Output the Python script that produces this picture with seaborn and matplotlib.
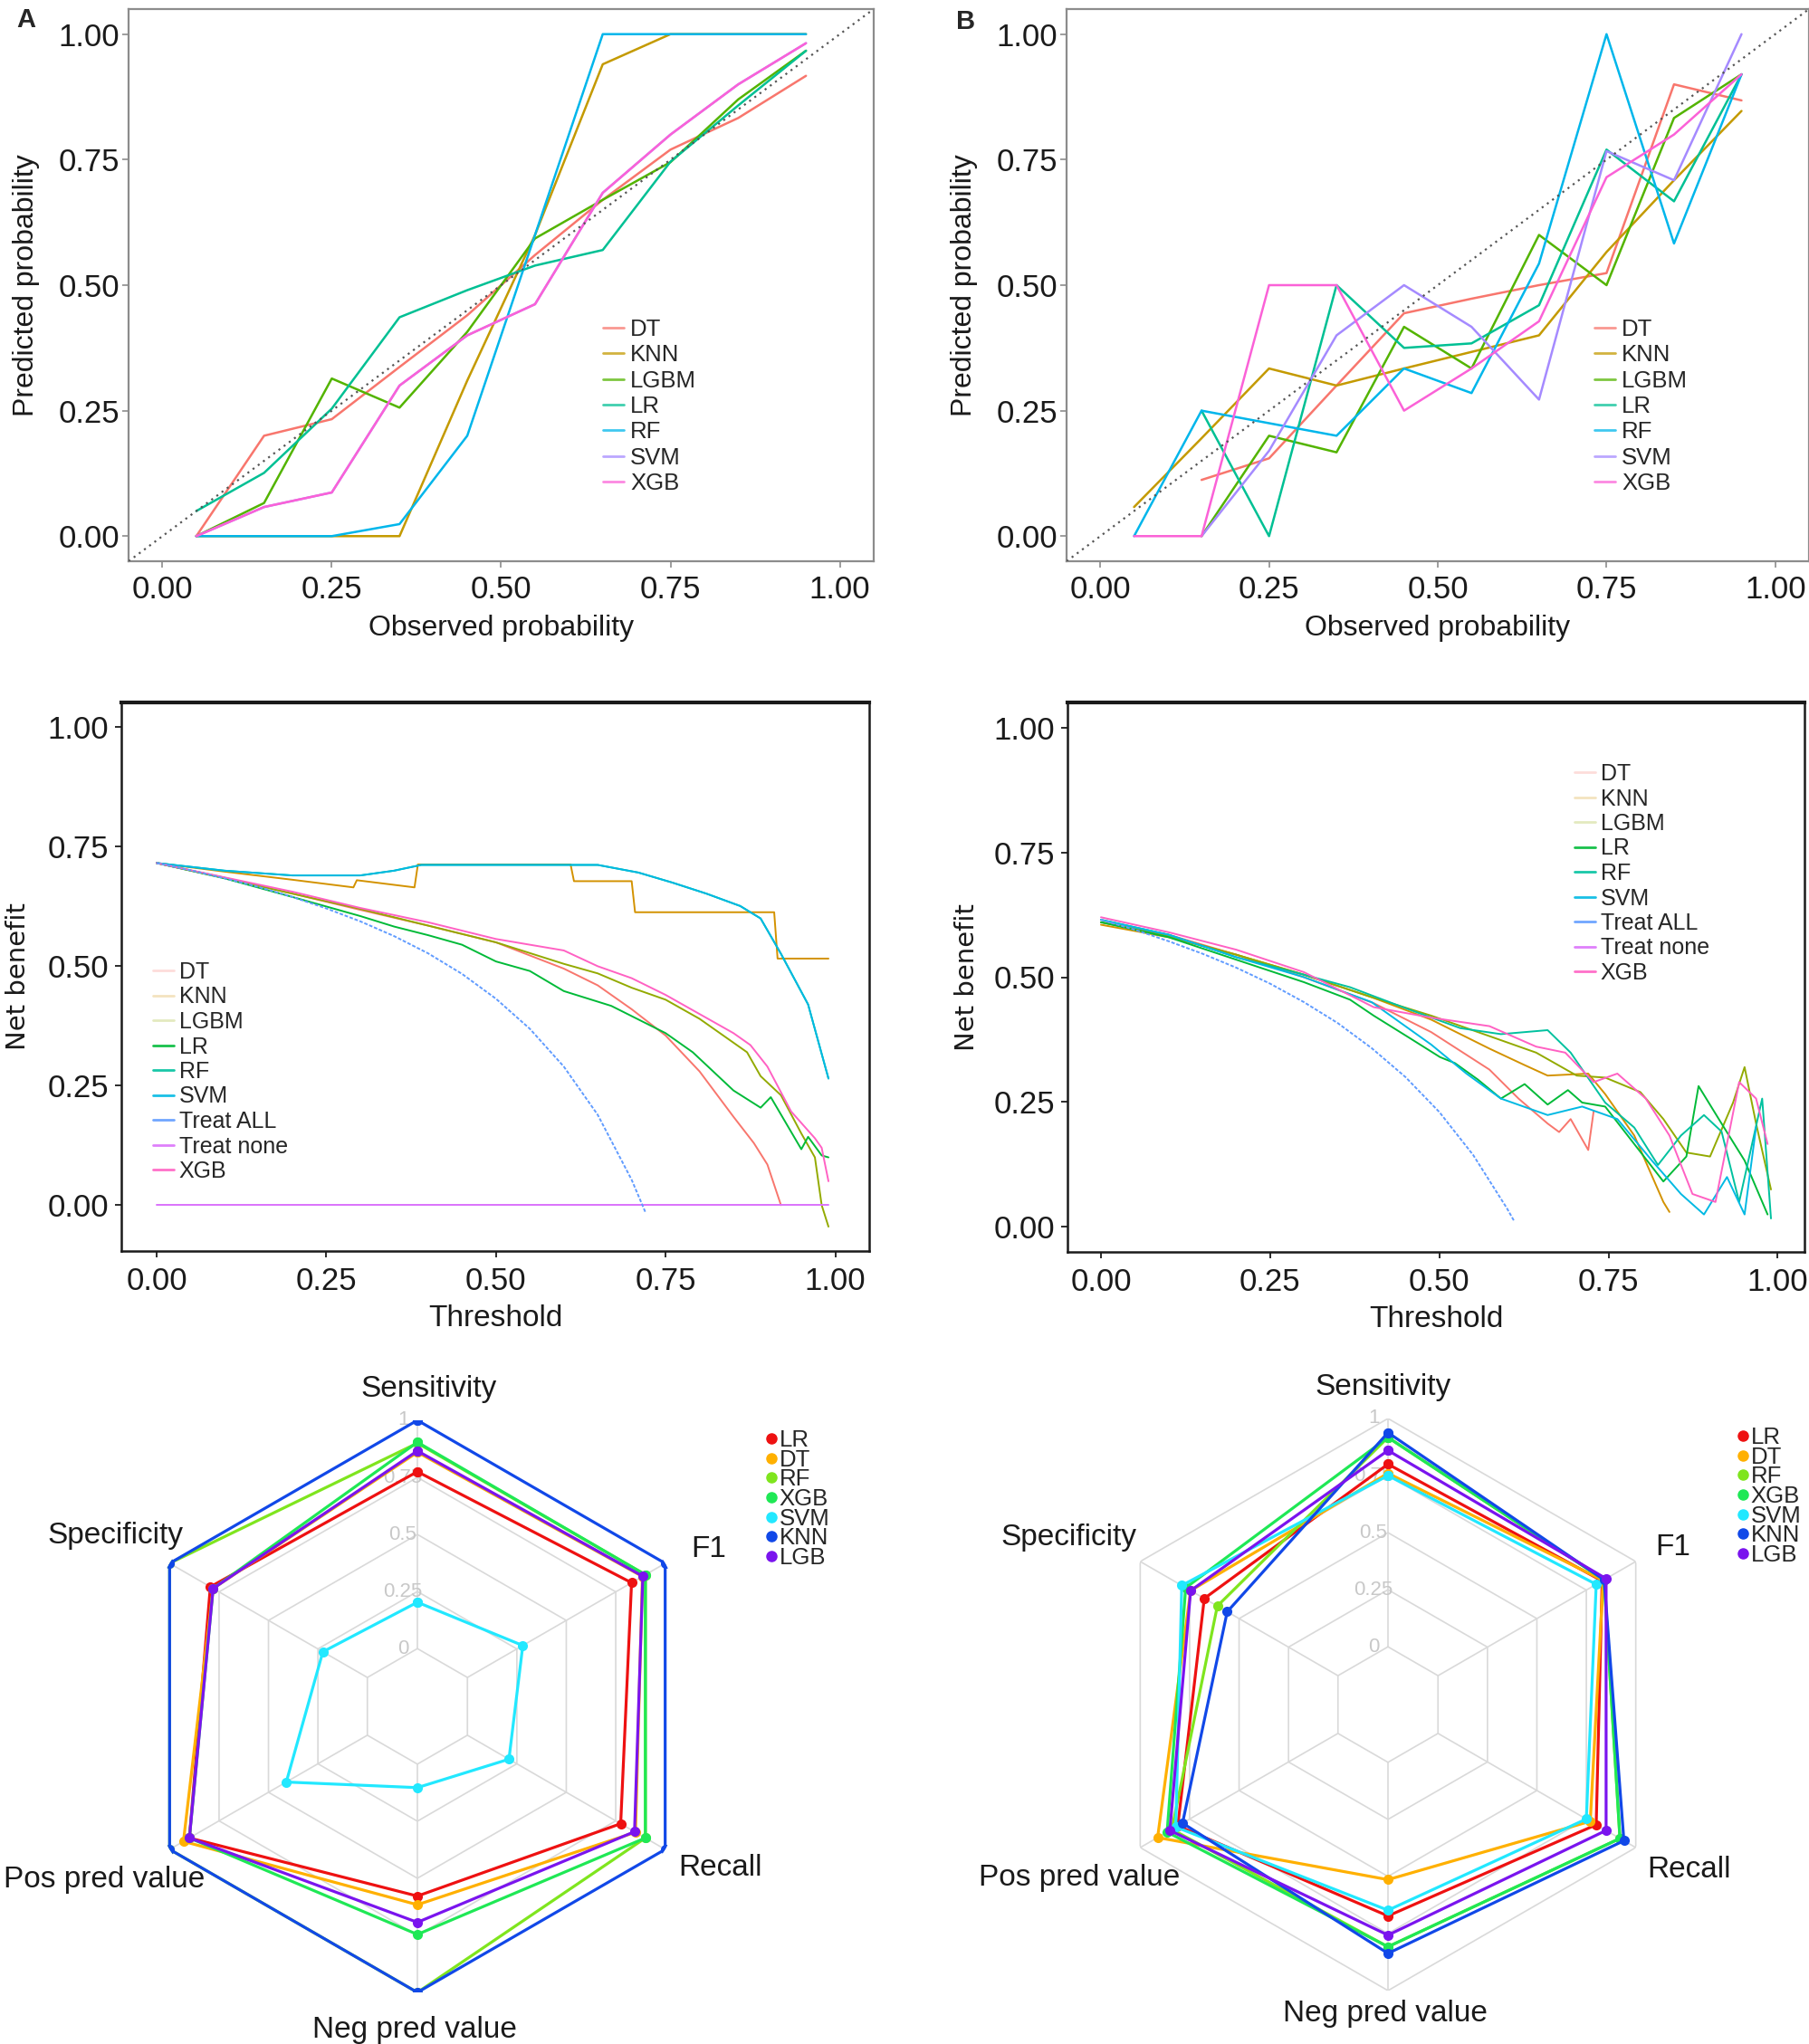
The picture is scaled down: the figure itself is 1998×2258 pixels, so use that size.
import numpy as np
import pandas as pd
import matplotlib
matplotlib.use("Agg")
import matplotlib.pyplot as plt
import seaborn as sns
from matplotlib.lines import Line2D

sns.set_theme(style="white")
plt.rcParams['font.family'] = ['Liberation Sans', 'DejaVu Sans']

# ---------------- data ----------------
# calibration curves (observed bin centres -> predicted probability)
obs_bins = [0.05, 0.15, 0.25, 0.35, 0.45, 0.55, 0.65, 0.75, 0.85, 0.95]
cal_models = ['DT', 'KNN', 'LGBM', 'LR', 'RF', 'SVM', 'XGB']

a_dt = [0.00, 0.20, 0.233, 0.337, 0.44, 0.56, 0.67, 0.77, 0.833, 0.917]
a_knn = [0.00, 0.00, 0.00, 0.00, 0.31, 0.60, 0.94, 1.00, 1.00, 1.00]
a_lgbm = [0.00, 0.066, 0.314, 0.256, 0.407, 0.593, 0.67, 0.745, 0.87, 0.967]
a_lr = [0.05, 0.126, 0.254, 0.436, 0.49, 0.539, 0.57, 0.746, 0.858, 0.967]
a_rf = [0.00, 0.00, 0.00, 0.024, 0.20, 0.60, 1.00, 1.00, 1.00, 1.00]
a_svm = [0.00, 0.058, 0.087, 0.30, 0.40, 0.462, 0.684, 0.80, 0.90, 0.982]
a_xgb = [0.00, 0.058, 0.087, 0.30, 0.40, 0.462, 0.684, 0.80, 0.90, 0.982]

b_dt = [np.nan, 0.112, 0.155, 0.30, 0.444, 0.473, 0.50, 0.524, 0.90, 0.868]
b_knn = [0.058, 0.195, 0.334, 0.30, 0.334, 0.367, 0.40, 0.566, 0.709, 0.847]
b_lgbm = [np.nan, 0.00, 0.20, 0.167, 0.417, 0.334, 0.60, 0.50, 0.833, 0.92]
b_lr = [np.nan, 0.25, 0.00, 0.50, 0.375, 0.384, 0.46, 0.77, 0.667, 0.92]
b_rf = [0.00, 0.25, 0.225, 0.20, 0.334, 0.285, 0.543, 1.00, 0.583, 0.92]
b_svm = [np.nan, 0.00, 0.17, 0.40, 0.50, 0.417, 0.272, 0.767, 0.709, 1.00]
b_xgb = [0.00, 0.00, 0.50, 0.50, 0.25, 0.334, 0.428, 0.715, 0.80, 0.92]

# decision curves, left panel
c_dt_t = [0, 0.1, 0.2, 0.3, 0.4, 0.5, 0.6, 0.65, 0.7, 0.75, 0.8, 0.85, 0.88, 0.9, 0.92]
c_dt_nb = [0.716, 0.685, 0.652, 0.618, 0.585, 0.55, 0.495, 0.46, 0.41, 0.355, 0.28, 0.185, 0.13, 0.085, 0.0]
c_knn_t = [0, 0.1, 0.2, 0.29, 0.295, 0.38, 0.385, 0.61, 0.615, 0.70, 0.705, 0.91, 0.915, 0.99]
c_knn_nb = [0.716, 0.698, 0.681, 0.665, 0.680, 0.665, 0.713, 0.713, 0.678, 0.678, 0.613, 0.613, 0.516, 0.516]
c_lgbm_t = [0, 0.1, 0.2, 0.3, 0.4, 0.5, 0.6, 0.65, 0.7, 0.75, 0.8, 0.85, 0.87, 0.89, 0.92, 0.95, 0.97, 0.98, 0.99]
c_lgbm_nb = [0.716, 0.685, 0.652, 0.62, 0.585, 0.55, 0.505, 0.485, 0.455, 0.43, 0.39, 0.34, 0.32, 0.27, 0.23, 0.15, 0.10, 0.0, -0.045]
c_lr_t = [0, 0.1, 0.2, 0.3, 0.35, 0.4, 0.45, 0.5, 0.55, 0.6, 0.67, 0.75, 0.79, 0.85, 0.89, 0.905, 0.95, 0.96, 0.98, 0.99]
c_lr_nb = [0.716, 0.684, 0.645, 0.605, 0.583, 0.565, 0.545, 0.51, 0.49, 0.448, 0.417, 0.36, 0.32, 0.24, 0.204, 0.226, 0.117, 0.143, 0.104, 0.10]
c_rf_t = [0, 0.1, 0.2, 0.3, 0.35, 0.39, 0.65, 0.71, 0.76, 0.81, 0.86, 0.89, 0.92, 0.96, 0.99]
c_rf_nb = [0.716, 0.70, 0.69, 0.69, 0.70, 0.712, 0.712, 0.696, 0.675, 0.652, 0.626, 0.60, 0.526, 0.42, 0.265]
c_svm_t = [0, 0.1, 0.2, 0.3, 0.35, 0.39, 0.65, 0.71, 0.76, 0.81, 0.86, 0.89, 0.92, 0.96, 0.99]
c_svm_nb = [0.716, 0.70, 0.69, 0.69, 0.70, 0.712, 0.712, 0.696, 0.675, 0.652, 0.626, 0.60, 0.526, 0.42, 0.265]
c_all_t = [0, 0.05, 0.1, 0.15, 0.2, 0.25, 0.3, 0.35, 0.4, 0.45, 0.5, 0.55, 0.6, 0.65, 0.7, 0.72]
c_all_nb = [0.716, 0.701, 0.684, 0.666, 0.645, 0.621, 0.594, 0.563, 0.527, 0.484, 0.432, 0.369, 0.290, 0.189, 0.053, -0.014]
c_none_t = [0, 0.99]
c_none_nb = [0.0, 0.0]
c_xgb_t = [0, 0.1, 0.2, 0.3, 0.4, 0.5, 0.6, 0.65, 0.7, 0.75, 0.8, 0.85, 0.875, 0.9, 0.935, 0.97, 0.98, 0.99]
c_xgb_nb = [0.716, 0.686, 0.656, 0.622, 0.592, 0.557, 0.533, 0.50, 0.475, 0.44, 0.40, 0.36, 0.335, 0.29, 0.196, 0.14, 0.12, 0.05]

# decision curves, right panel
d_dt_t = [0, 0.1, 0.2, 0.3, 0.403, 0.488, 0.574, 0.617, 0.66, 0.677, 0.694, 0.72, 0.728]
d_dt_nb = [0.61, 0.585, 0.545, 0.50, 0.448, 0.39, 0.315, 0.257, 0.207, 0.19, 0.216, 0.154, 0.232]
d_knn_t = [0, 0.1, 0.2, 0.3, 0.4, 0.488, 0.574, 0.626, 0.66, 0.72, 0.745, 0.788, 0.831, 0.84]
d_knn_nb = [0.605, 0.58, 0.545, 0.505, 0.46, 0.415, 0.357, 0.324, 0.303, 0.307, 0.266, 0.183, 0.05, 0.03]
d_lgbm_t = [0, 0.1, 0.2, 0.3, 0.4, 0.488, 0.574, 0.643, 0.703, 0.745, 0.797, 0.831, 0.865, 0.90, 0.934, 0.951, 0.968, 0.99]
d_lgbm_nb = [0.61, 0.582, 0.545, 0.505, 0.46, 0.423, 0.382, 0.349, 0.303, 0.299, 0.27, 0.216, 0.149, 0.141, 0.249, 0.32, 0.207, 0.075]
d_lr_t = [0, 0.1, 0.2, 0.3, 0.368, 0.403, 0.454, 0.501, 0.523, 0.557, 0.591, 0.626, 0.66, 0.69, 0.711, 0.745, 0.788, 0.831, 0.865, 0.883, 0.917, 0.951, 0.985]
d_lr_nb = [0.61, 0.58, 0.535, 0.49, 0.455, 0.423, 0.38, 0.34, 0.328, 0.295, 0.257, 0.286, 0.245, 0.274, 0.249, 0.241, 0.166, 0.091, 0.141, 0.282, 0.207, 0.133, 0.025]
d_rf_t = [0, 0.1, 0.2, 0.3, 0.368, 0.446, 0.531, 0.591, 0.66, 0.694, 0.745, 0.788, 0.823, 0.857, 0.891, 0.917, 0.943, 0.977, 0.99]
d_rf_nb = [0.615, 0.585, 0.54, 0.505, 0.48, 0.44, 0.398, 0.386, 0.394, 0.349, 0.249, 0.199, 0.124, 0.183, 0.224, 0.191, 0.05, 0.257, 0.017]
d_svm_t = [0, 0.1, 0.2, 0.3, 0.4, 0.488, 0.54, 0.591, 0.66, 0.711, 0.763, 0.814, 0.857, 0.891, 0.925, 0.951, 0.968]
d_svm_nb = [0.615, 0.585, 0.54, 0.50, 0.45, 0.365, 0.307, 0.257, 0.224, 0.241, 0.216, 0.133, 0.066, 0.025, 0.10, 0.025, 0.20]
d_all_t = [0, 0.05, 0.1, 0.15, 0.2, 0.25, 0.3, 0.35, 0.4, 0.45, 0.5, 0.55, 0.6, 0.61]
d_all_nb = [0.615, 0.595, 0.572, 0.547, 0.519, 0.487, 0.450, 0.408, 0.358, 0.300, 0.230, 0.144, 0.037, 0.013]
d_xgb_t = [0, 0.1, 0.2, 0.3, 0.403, 0.488, 0.574, 0.643, 0.686, 0.728, 0.763, 0.805, 0.84, 0.874, 0.908, 0.943, 0.968, 0.985]
d_xgb_nb = [0.62, 0.59, 0.555, 0.51, 0.44, 0.419, 0.402, 0.361, 0.349, 0.29, 0.307, 0.257, 0.183, 0.066, 0.05, 0.29, 0.257, 0.166]

# radar metrics (order: Sensitivity, F1, Recall, Neg pred value, Pos pred value, Specificity)
radar_axes = ['Sensitivity', 'F1', 'Recall', 'Neg pred value', 'Pos pred value', 'Specificity']
radar_models = ['LR', 'DT', 'RF', 'XGB', 'SVM', 'KNN', 'LGB']
e_lr = [0.775, 0.83, 0.775, 0.578, 0.90, 0.794]
e_dt = [0.86, 0.885, 0.85, 0.616, 0.93, 0.78]
e_rf = [0.90, 0.90, 0.90, 1.00, 1.00, 1.00]
e_xgb = [0.904, 0.90, 0.90, 0.746, 0.90, 0.78]
e_svm = [0.203, 0.28, 0.21, 0.103, 0.41, 0.225]
e_knn = [1.00, 1.00, 1.00, 1.00, 1.00, 1.00]
e_lgb = [0.866, 0.887, 0.845, 0.693, 0.90, 0.78]

f_lr = [0.80, 0.83, 0.80, 0.673, 0.81, 0.676]
f_dt = [0.76, 0.835, 0.77, 0.514, 0.912, 0.745]
f_rf = [0.917, 0.84, 0.92, 0.808, 0.84, 0.61]
f_xgb = [0.917, 0.84, 0.92, 0.808, 0.864, 0.77]
f_svm = [0.75, 0.80, 0.75, 0.648, 0.82, 0.79]
f_knn = [0.938, 0.84, 0.94, 0.837, 0.786, 0.56]
f_lgb = [0.86, 0.85, 0.85, 0.757, 0.85, 0.745]

# ---------------- layout helpers ----------------
W, H = 1999, 2258
fig = plt.figure(figsize=(W / 100, H / 100), dpi=100)


def box(l, t, r, b):
    return [l / W, 1 - b / H, (r - l) / W, (b - t) / H]


def fxy(x, y):
    return (x / W, 1 - y / H)


cal_colors = ['#F8766D', '#C49A00', '#53B400', '#00C094', '#00B6EB', '#A58AFF', '#FB61D7']
dca_models = ['DT', 'KNN', 'LGBM', 'LR', 'RF', 'SVM', 'Treat ALL', 'Treat none', 'XGB']
dca_colors = ['#F8766D', '#D39200', '#93AA00', '#00BA38', '#00C19F', '#00B9E3', '#619CFF', '#DB72FB', '#FF61C3']
radar_colors = ['#EE1111', '#FFB000', '#7FE51E', '#1FE855', '#22E8FF', '#1148E8', '#7A14EE']

tick_fmt = ['0.00', '0.25', '0.50', '0.75', '1.00']
ticks = [0, 0.25, 0.5, 0.75, 1.0]


def draw_cal(rect, series, letter, letter_xy, legend_xy):
    ax = fig.add_axes(box(*rect))
    rows = []
    for name, vals in zip(cal_models, series):
        for x, y in zip(obs_bins, vals):
            rows.append((name, x, y))
    df = pd.DataFrame(rows, columns=['model', 'obs', 'pred']).dropna()
    ax.axline((0, 0), slope=1, color='#555555', ls=(0, (1, 2.2)), lw=1.6, zorder=3)
    sns.lineplot(data=df, x='obs', y='pred', hue='model', hue_order=cal_models,
                 palette=cal_colors, estimator=None, sort=False, lw=1.8,
                 legend=False, ax=ax)
    ax.set_xlim(-0.05, 1.05)
    ax.set_ylim(-0.05, 1.05)
    ax.set_xticks(ticks, tick_fmt)
    ax.set_yticks(ticks, tick_fmt)
    for s in ax.spines.values():
        s.set_color('#8c8c8c')
        s.set_linewidth(1.6)
    ax.tick_params(bottom=True, left=True, length=5, width=1.2, color='#8c8c8c',
                   labelsize=25, labelcolor='#1a1a1a')
    ax.tick_params(axis='x', pad=6)
    ax.tick_params(axis='y', pad=2)
    ax.set_xlabel('Observed probability', fontsize=23, labelpad=8, color='#1a1a1a')
    ax.set_ylabel('Predicted probability', fontsize=23, labelpad=15, color='#1a1a1a')
    handles = [Line2D([], [], color=c, lw=2, alpha=0.75) for c in cal_colors]
    fig.legend(handles, cal_models, loc='upper left', bbox_to_anchor=fxy(*legend_xy),
               frameon=False, fontsize=18.5, handlelength=0.9, handletextpad=0.27,
               labelspacing=0.17, borderpad=0, borderaxespad=0)
    fig.text(*fxy(*letter_xy), letter, fontsize=21, fontweight='bold', ha='center', va='center')
    return ax


def draw_dca(rect, curves, xlim, ylim, legend_xy, ylabelpad):
    ax = fig.add_axes(box(*rect))
    rows = []
    for name, t, nb in curves:
        for x, y in zip(t, nb):
            rows.append((name, x, y))
    df = pd.DataFrame(rows, columns=['model', 'threshold', 'nb'])
    pal = dict(zip(dca_models, dca_colors))
    models = df[df.model != 'Treat ALL']
    sns.lineplot(data=models, x='threshold', y='nb', hue='model', palette=pal,
                 estimator=None, sort=False, lw=1.4, legend=False, ax=ax)
    sns.lineplot(data=df[df.model == 'Treat ALL'], x='threshold', y='nb',
                 color=pal['Treat ALL'], estimator=None, sort=False, lw=1.4,
                 ls=(0, (2, 1)), legend=False, ax=ax)
    ax.set_xlim(*xlim)
    ax.set_ylim(*ylim)
    ax.set_xticks(ticks, tick_fmt)
    ax.set_yticks(ticks, tick_fmt)
    for s in ax.spines.values():
        s.set_color('#1a1a1a')
        s.set_linewidth(1.8)
    ax.spines['top'].set_linewidth(3)
    ax.tick_params(bottom=True, left=True, length=5, width=1.3, color='#1a1a1a',
                   labelsize=25, labelcolor='#1a1a1a')
    ax.tick_params(axis='x', pad=7)
    ax.tick_params(axis='y', pad=5)
    ax.set_xlabel('Threshold', fontsize=24, labelpad=7, color='#1a1a1a')
    ax.set_ylabel('Net benefit', fontsize=21, labelpad=ylabelpad, color='#1a1a1a',
                  family='DejaVu Sans')
    alphas = [0.25, 0.25, 0.25, 0.9, 0.9, 0.9, 0.9, 0.9, 0.9]
    handles = [Line2D([], [], color=c, lw=2, alpha=a) for c, a in zip(dca_colors, alphas)]
    fig.legend(handles, dca_models, loc='upper left', bbox_to_anchor=fxy(*legend_xy),
               frameon=False, fontsize=18, handlelength=0.92, handletextpad=0.23,
               labelspacing=0.14, borderpad=0, borderaxespad=0)
    return ax


def draw_radar(center, series, label_pos, legend_xy):
    R = 316
    cx, cy = center
    ax = fig.add_axes(box(cx - R, cy - R, cx + R, cy + R), projection='polar')
    ax.set_theta_zero_location('N')
    ax.set_theta_direction(-1)
    theta = np.deg2rad([0, 60, 120, 180, 240, 300])
    closed = np.append(theta, 2 * np.pi)
    # hexagonal grid and spokes
    for lvl in [0, 0.25, 0.5, 0.75, 1.0]:
        ax.plot(closed, [lvl] * 7, color='#d9d9d9', lw=1.2, zorder=1)
    for th in theta:
        ax.plot([th, th], [0, 1], color='#d9d9d9', lw=1.2, zorder=1)
    for lvl, txt in zip([0, 0.25, 0.5, 0.75, 1.0], ['0', '0.25', '0.5', '0.75', '1']):
        ax.annotate(txt, xy=(0, lvl), xytext=(-11.5, 0), textcoords='offset points',
                    ha='center', va='center', fontsize=16, color='#c8c8c8', zorder=2)
    rows = []
    for name, vals in zip(radar_models, series):
        vv = list(vals) + [vals[0]]
        for i, (th, v) in enumerate(zip(closed, vv)):
            rows.append((name, i, th, v))
    df = pd.DataFrame(rows, columns=['model', 'order', 'theta', 'value'])
    sns.lineplot(data=df, x='theta', y='value', hue='model', hue_order=radar_models,
                 palette=radar_colors, estimator=None, sort=False, lw=2.3,
                 marker='o', markersize=8, markeredgewidth=0, legend=False, ax=ax)
    ax.set_ylim(-0.253, 1.0)
    ax.set_xticks([])
    ax.set_yticks([])
    ax.grid(False)
    ax.spines['polar'].set_visible(False)
    ax.set_facecolor('none')
    ax.set_xlabel('')
    ax.set_ylabel('')
    for name, (x, y) in zip(radar_axes, label_pos):
        fig.text(*fxy(x, y), name, fontsize=24, ha='center', va='center', color='#1a1a1a')
    handles = [Line2D([], [], color=c, marker='o', ls='none', markersize=8) for c in radar_colors]
    fig.legend(handles, radar_models, loc='upper left', bbox_to_anchor=fxy(*legend_xy),
               frameon=False, fontsize=18.5, handlelength=0.45, handletextpad=0.12,
               labelspacing=-0.09, borderpad=0, borderaxespad=0)
    return ax


# ---------------- panels ----------------
draw_cal((142, 10, 965, 620), [a_dt, a_knn, a_lgbm, a_lr, a_rf, a_svm, a_xgb],
         'A', (29, 22), (666, 352))
draw_cal((1178, 10, 1998, 620), [b_dt, b_knn, b_lgbm, b_lr, b_rf, b_svm, b_xgb],
         'B', (1067, 24), (1761, 352))

draw_dca((134, 776, 960, 1382),
         [('DT', c_dt_t, c_dt_nb), ('KNN', c_knn_t, c_knn_nb), ('LGBM', c_lgbm_t, c_lgbm_nb),
          ('LR', c_lr_t, c_lr_nb), ('RF', c_rf_t, c_rf_nb), ('SVM', c_svm_t, c_svm_nb),
          ('Treat ALL', c_all_t, c_all_nb), ('Treat none', c_none_t, c_none_nb),
          ('XGB', c_xgb_t, c_xgb_nb)],
         (-0.052, 1.05), (-0.096, 1.052), (169, 1062), 13)
draw_dca((1179, 776, 1993, 1383),
         [('DT', d_dt_t, d_dt_nb), ('KNN', d_knn_t, d_knn_nb), ('LGBM', d_lgbm_t, d_lgbm_nb),
          ('LR', d_lr_t, d_lr_nb), ('RF', d_rf_t, d_rf_nb), ('SVM', d_svm_t, d_svm_nb),
          ('Treat ALL', d_all_t, d_all_nb), ('XGB', d_xgb_t, d_xgb_nb)],
         (-0.0495, 1.0395), (-0.05, 1.05), (1739, 843), 11)

draw_radar((461, 1885), [e_lr, e_dt, e_rf, e_xgb, e_svm, e_knn, e_lgb],
           [(474, 1534), (783, 1711), (796, 2063), (458, 2242), (115, 2077), (127, 1696)],
           (846, 1579))
draw_radar((1533, 1883), [f_lr, f_dt, f_rf, f_xgb, f_svm, f_knn, f_lgb],
           [(1528, 1532), (1848, 1709), (1866, 2066), (1530, 2225), (1192, 2074), (1180, 1699)],
           (1919, 1576))

fig.savefig('out.png', dpi=100, facecolor='white')
